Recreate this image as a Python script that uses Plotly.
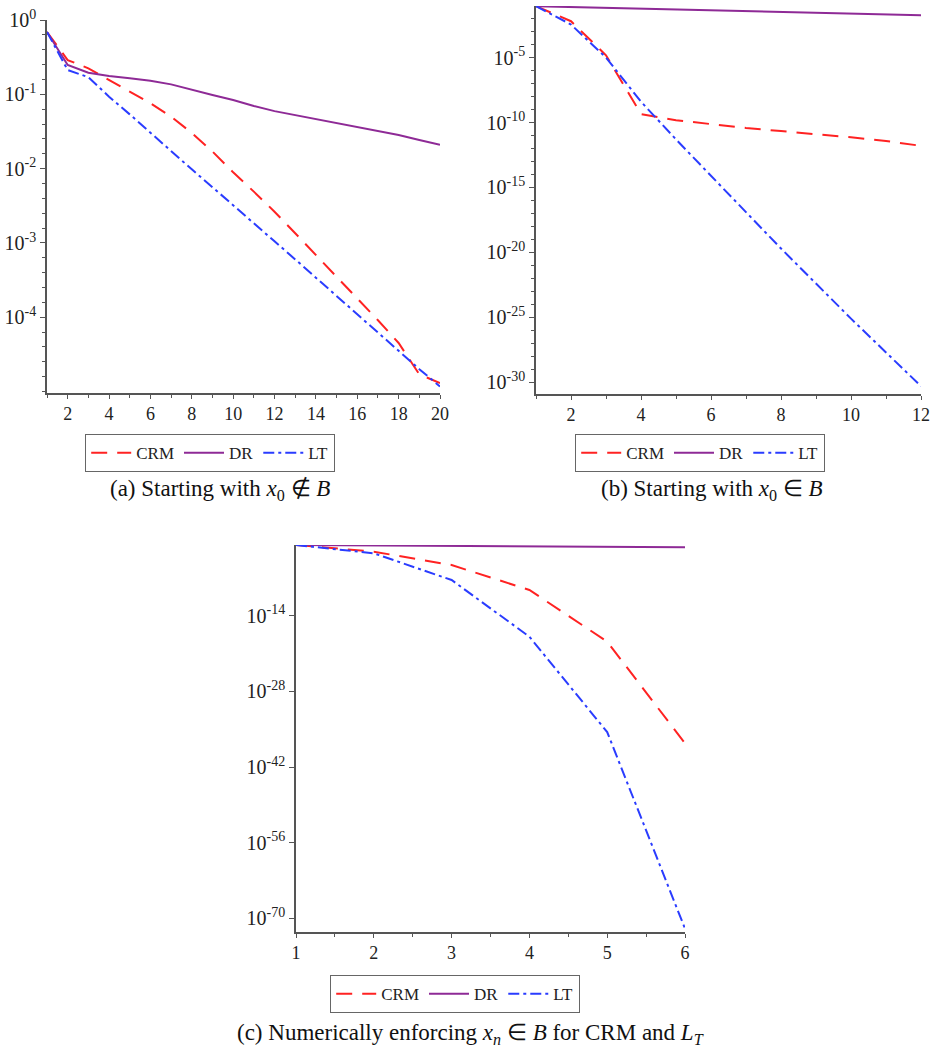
import plotly.graph_objects as go

# ---------------- data ----------------
# (a) Starting with x0 not in B
iter_a = list(range(1, 21))
crm_a = [0.69, 0.289, 0.224, 0.155, 0.108, 0.0759, 0.0501, 0.0302, 0.0170, 0.00891,
         0.00490, 0.00263, 0.00135, 6.9e-4, 3.5e-4, 1.8e-4, 9.1e-5, 4.5e-5, 1.7e-5, 1.3e-5]
dr_a = [0.69, 0.248, 0.195, 0.176, 0.164, 0.152, 0.136, 0.114, 0.0977, 0.0837,
        0.0695, 0.0594, 0.0526, 0.0465, 0.0414, 0.0366, 0.0320, 0.0283, 0.0242, 0.0209]
lt_a = [0.69, 0.212, 0.170, 0.093, 0.0537, 0.0302, 0.0174, 0.00977, 0.00562, 0.00324,
        0.00182, 0.00105, 6.0e-4, 3.4e-4, 1.95e-4, 1.1e-4, 6.3e-5, 3.5e-5, 2.0e-5, 1.17e-5]

# (b) Starting with x0 in B
iter_b = list(range(1, 13))
crm_b = [0.09, 6.3e-3, 1.5e-5, 4.5e-10, 1.5e-10, 7.4e-11, 3.8e-11, 2.2e-11,
         1.3e-11, 7.2e-12, 3.8e-12, 1.6e-12]
dr_b = [0.09, 0.078, 0.067, 0.058, 0.050, 0.043, 0.037, 0.032, 0.028, 0.024, 0.021, 0.018]
lt_b = [0.09, 3.5e-3, 1.0e-5, 4.0e-9, 5.0e-12, 8.0e-15, 1.3e-17, 2.0e-20,
        4.0e-23, 8.0e-26, 2.0e-28, 5.0e-31]

# (c) Numerically enforcing x_n in B for CRM and L_T
iter_c = [1, 2, 3, 4, 5, 6]
crm_c = [0.12, 6.9e-3, 2.4e-5, 5.8e-10, 1.6e-19, 2.5e-38]
dr_c = [0.12, 0.099, 0.082, 0.068, 0.056, 0.046]
lt_c = [0.12, 3.5e-3, 4.0e-8, 1.3e-18, 3.0e-36, 1.3e-72]

ytick_a = [1, 1e-1, 1e-2, 1e-3, 1e-4]
ytext_a = ["10<sup>0</sup>", "10<sup>-1</sup>", "10<sup>-2</sup>", "10<sup>-3</sup>", "10<sup>-4</sup>"]
ytick_b = [1e-5, 1e-10, 1e-15, 1e-20, 1e-25, 1e-30]
ytext_b = ["10<sup>-5</sup>", "10<sup>-10</sup>", "10<sup>-15</sup>", "10<sup>-20</sup>",
           "10<sup>-25</sup>", "10<sup>-30</sup>"]
ytick_c = [1e-14, 1e-28, 1e-42, 1e-56, 1e-70]
ytext_c = ["10<sup>-14</sup>", "10<sup>-28</sup>", "10<sup>-42</sup>", "10<sup>-56</sup>",
           "10<sup>-70</sup>"]

series_names = ["CRM", "DR", "LT"]
captions = [
    "(a) Starting with <i>x</i><sub>0</sub> \u2209 <i>B</i>",
    "(b) Starting with <i>x</i><sub>0</sub> \u2208 <i>B</i>",
    "(c) Numerically enforcing <i>x<sub>n</sub></i> \u2208 <i>B</i> for CRM and <i>L<sub>T</sub></i>",
]

# ---------------- style ----------------
W, H = 936, 1051
RED = "#ff2222"
PURPLE = "#8e2a96"
BLUE = "#2a3cff"
SERIF = "Liberation Serif, Times New Roman, serif"
AX = "#555555"

styles = {
    "CRM": dict(color=RED, width=2, dash="16px,10px"),
    "DR": dict(color=PURPLE, width=2, dash="solid"),
    "LT": dict(color=BLUE, width=2, dash="11px,4px,3px,4px"),
}

fig = go.Figure()

panels = [
    ("x", "y", "legend", iter_a, [crm_a, dr_a, lt_a]),
    ("x2", "y2", "legend2", iter_b, [crm_b, dr_b, lt_b]),
    ("x3", "y3", "legend3", iter_c, [crm_c, dr_c, lt_c]),
]
for xa, ya, lg, xs, ys_list in panels:
    for name, ys in zip(series_names, ys_list):
        fig.add_trace(go.Scatter(x=xs, y=ys, mode="lines", name=name,
                                 line=styles[name], xaxis=xa, yaxis=ya, legend=lg))


def px_x(p):
    return p / W


def px_y(p):
    return 1 - p / H


base_ax = dict(showline=True, linecolor=AX, linewidth=1.5, showgrid=False, zeroline=False,
               ticks="outside", tickcolor=AX, automargin=False)
y_ax = dict(ticklen=5, tickfont=dict(family=SERIF, size=20, color="#222"), **base_ax)
x_ax = dict(ticklen=4, tickfont=dict(family=SERIF, size=18, color="#222"), **base_ax)
minor_style = dict(ticklen=3, tickcolor=AX, ticks="outside")

fig.update_layout(
    width=W, height=H,
    margin=dict(l=0, r=0, t=0, b=0, autoexpand=False),
    paper_bgcolor="white", plot_bgcolor="white",
    xaxis=dict(domain=[px_x(47), px_x(440)], range=[1, 20], anchor="y",
               tickvals=[2, 4, 6, 8, 10, 12, 14, 16, 18, 20],
               minor=dict(tickmode="linear", tick0=1, dtick=1, **minor_style),
               **x_ax),
    yaxis=dict(domain=[px_y(393), px_y(20)], type="log", range=[-5.02, 0], anchor="x",
               tickvals=ytick_a, ticktext=ytext_a,
               minor=dict(tickmode="linear", tick0=0, dtick=0.2, **minor_style),
               **y_ax),
    xaxis2=dict(domain=[px_x(536), px_x(921)], range=[1, 12], anchor="y2",
                tickvals=[2, 4, 6, 8, 10, 12],
                minor=dict(tickmode="linear", tick0=1, dtick=1, **minor_style),
                **x_ax),
    yaxis2=dict(domain=[px_y(394), px_y(6)], type="log", range=[-30.9, -1.03], anchor="x2",
                tickvals=ytick_b, ticktext=ytext_b,
                minor=dict(tickmode="linear", tick0=0, dtick=1, **minor_style),
                **y_ax),
    xaxis3=dict(domain=[px_x(296), px_x(685)], range=[1, 6], anchor="y3",
                tickvals=[1, 2, 3, 4, 5, 6],
                minor=dict(tickmode="linear", tick0=1, dtick=0.5, **minor_style),
                **x_ax),
    yaxis3=dict(domain=[px_y(932), px_y(545)], type="log", range=[-72.5, -0.92], anchor="x3",
                tickvals=ytick_c, ticktext=ytext_c,
                **y_ax),
)

leg_common = dict(orientation="h", bordercolor="#666", borderwidth=1.2, bgcolor="white",
                  font=dict(family=SERIF, size=17, color="#222"), itemwidth=40,
                  xanchor="center", yanchor="middle", tracegroupgap=0)
fig.update_layout(
    legend=dict(x=px_x(210), y=px_y(453), **leg_common),
    legend2=dict(x=px_x(700), y=px_y(453), **leg_common),
    legend3=dict(x=px_x(455), y=px_y(994), **leg_common),
)

cap_pos = [(220, 490), (712, 490), (470, 1034)]
for text, (cx, cy) in zip(captions, cap_pos):
    fig.add_annotation(text=text, x=px_x(cx), y=px_y(cy), xref="paper", yref="paper",
                       showarrow=False, xanchor="center", yanchor="middle",
                       font=dict(family=SERIF, size=23, color="#111"))

fig.write_html("out.html",
               config={"displayModeBar": False},
               post_script="document.body.style.margin='0px';"
                           "document.body.style.overflow='hidden';")
